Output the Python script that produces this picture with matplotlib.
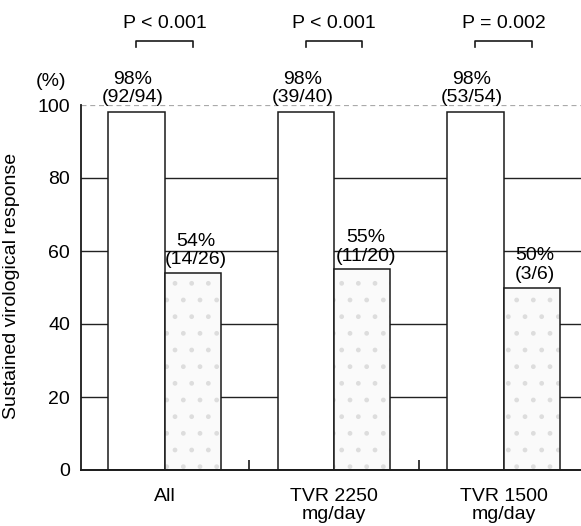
import matplotlib
matplotlib.use("Agg")
import matplotlib.pyplot as plt
import numpy as np

plt.rcParams['font.family'] = ['Liberation Sans', 'DejaVu Sans']

# data
groups = ["All", "TVR 2250\nmg/day", "TVR 1500\nmg/day"]
svr_high = [98, 98, 98]          # white bars
svr_low = [54, 55, 50]           # stippled bars
high_counts = ["(92/94)", "(39/40)", "(53/54)"]
low_counts = ["(14/26)", "(11/20)", "(3/6)"]
p_values = ["P < 0.001", "P < 0.001", "P = 0.002"]
y_ticks = [0, 20, 40, 60, 80, 100]

FS = 14
W = 0.333
x = np.arange(len(groups))

fig = plt.figure(figsize=(5.81, 5.26), dpi=100)
ax = fig.add_axes([81 / 581, 1 - 470 / 526, 1 - 81 / 581, (470 - 105) / 526])

# horizontal reference lines behind the bars
for y in y_ticks[1:-1]:
    ax.axhline(y, color="#222222", lw=1.0, zorder=1)
ax.axhline(100, color="#aaaaaa", lw=0.9, ls=(0, (4, 3)), zorder=1)

# white bars
ax.bar(x - W / 2, svr_high, W, color="white", edgecolor="#1a1a1a", lw=1.1, zorder=2)
# stippled bars: faint hatch first, outline on top
ax.bar(x + W / 2, svr_low, W, color="#fafafa", edgecolor="#dddddd", hatch=".",
       lw=0, zorder=2)
ax.bar(x + W / 2, svr_low, W, color="none", edgecolor="#1a1a1a", lw=1.1, zorder=3)

# value labels
for i in range(len(groups)):
    ax.text(x[i] - W / 2 - 0.02, svr_high[i] + 1.6, f"{svr_high[i]}%\n{high_counts[i]}",
            ha="center", va="bottom", fontsize=FS, linespacing=1.1, clip_on=False,
            zorder=4)
    ax.text(x[i] + W / 2 + 0.02, svr_low[i] + 1.3, f"{svr_low[i]}%\n{low_counts[i]}",
            ha="center", va="bottom", fontsize=FS, linespacing=1.1, zorder=4)

    # p-value brackets
    x0, x1 = x[i] - W / 2, x[i] + W / 2
    ax.plot([x0, x0, x1, x1], [115.9, 117.6, 117.6, 115.9], color="#1a1a1a",
            lw=1.2, clip_on=False)
    ax.text(x[i], 122.3, p_values[i], ha="center", va="center", fontsize=FS,
            clip_on=False)

ax.set_xlim(-0.493, 2.457)
ax.set_ylim(0, 100)
ax.set_yticks(y_ticks)
ax.set_xticks(x)
ax.set_xticklabels(groups, fontsize=FS, linespacing=1.1)
ax.set_xticks([0.5, 1.5], minor=True)
ax.tick_params(axis="y", length=0, pad=8, labelsize=FS)
ax.tick_params(axis="x", which="major", length=0, pad=13)
ax.tick_params(axis="x", which="minor", direction="in", length=7, width=1.2,
               color="#1a1a1a")

for side in ["top", "right"]:
    ax.spines[side].set_visible(False)
ax.spines["left"].set_linewidth(1.3)
ax.spines["bottom"].set_linewidth(1.4)
ax.spines["left"].set_color("#1a1a1a")
ax.spines["bottom"].set_color("#1a1a1a")

ax.set_ylabel("Sustained virological response", fontsize=FS)
ax.yaxis.set_label_coords(20 / 581, 1 - 286 / 526, transform=fig.transFigure)
fig.text(51 / 581, 1 - 82 / 526, "(%)", ha="center", va="center", fontsize=FS)

fig.savefig("out.png", dpi=100)
